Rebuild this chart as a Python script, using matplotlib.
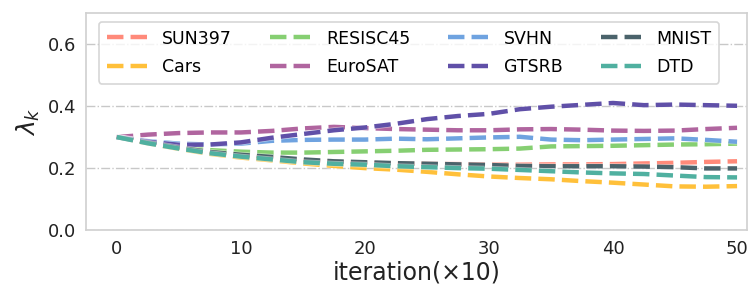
import numpy as np
from matplotlib import pyplot as plt
import matplotlib.patheffects as pe

# lambda_k per task, sampled every 2.5 (x10 iterations)
iters = [0, 2.5, 5, 7.5, 10, 12.5, 15, 17.5, 20, 22.5, 25,
         27.5, 30, 32.5, 35, 37.5, 40, 42.5, 45, 47.5, 50]

sun397 = [0.300, 0.281, 0.265, 0.250, 0.240, 0.232, 0.225, 0.220, 0.217, 0.215, 0.214,
          0.213, 0.212, 0.211, 0.212, 0.212, 0.213, 0.215, 0.217, 0.220, 0.222]
cars = [0.300, 0.280, 0.262, 0.246, 0.234, 0.225, 0.215, 0.207, 0.200, 0.195, 0.188,
        0.180, 0.173, 0.168, 0.164, 0.158, 0.153, 0.147, 0.141, 0.140, 0.142]
resisc45 = [0.300, 0.284, 0.268, 0.258, 0.253, 0.250, 0.250, 0.252, 0.254, 0.256, 0.259,
            0.260, 0.261, 0.263, 0.270, 0.271, 0.272, 0.274, 0.276, 0.277, 0.279]
eurosat = [0.300, 0.308, 0.313, 0.315, 0.315, 0.320, 0.328, 0.333, 0.329, 0.326, 0.324,
           0.322, 0.322, 0.325, 0.326, 0.324, 0.321, 0.320, 0.321, 0.326, 0.330]
svhn = [0.300, 0.287, 0.279, 0.276, 0.279, 0.288, 0.291, 0.292, 0.292, 0.295, 0.293,
        0.296, 0.299, 0.301, 0.292, 0.290, 0.292, 0.294, 0.296, 0.291, 0.285]
gtsrb = [0.300, 0.285, 0.275, 0.276, 0.283, 0.298, 0.310, 0.322, 0.331, 0.343, 0.358,
         0.368, 0.375, 0.390, 0.398, 0.404, 0.410, 0.403, 0.405, 0.403, 0.401]
mnist = [0.300, 0.282, 0.266, 0.252, 0.243, 0.236, 0.228, 0.222, 0.219, 0.216, 0.214,
         0.212, 0.210, 0.207, 0.206, 0.206, 0.206, 0.205, 0.203, 0.199, 0.199]
dtd = [0.300, 0.280, 0.263, 0.248, 0.237, 0.228, 0.219, 0.214, 0.211, 0.206, 0.203,
       0.200, 0.198, 0.194, 0.190, 0.186, 0.183, 0.181, 0.176, 0.171, 0.170]

names = ['SUN397', 'Cars', 'RESISC45', 'EuroSAT', 'SVHN', 'GTSRB', 'MNIST', 'DTD']
series = [sun397, cars, resisc45, eurosat, svhn, gtsrb, mnist, dtd]
colors = ['#ff8a7a', '#ffc03a', '#86cf72', '#b0659f', '#6fa3e0', '#6050a8', '#4b636b', '#50b0a0']

fig = plt.figure(figsize=(7.53, 3.04), dpi=100)
ax = fig.add_axes([0.114, 0.243, 0.878, 0.714])

for name, ys, c in zip(names, series, colors):
    ax.plot(iters, ys, '--', color=c, lw=3.2, label=name,
            path_effects=[pe.Stroke(linewidth=4.2, foreground='white', alpha=0.5), pe.Normal()])

ax.set_xlim(-2.5, 50.8)
ax.set_ylim(0, 0.7)
ax.set_xticks([0, 10, 20, 30, 40, 50])
ax.set_yticks([0.0, 0.2, 0.4, 0.6])
ax.yaxis.grid(True, linestyle='-.', color='#c8c8c8', lw=1)
ax.set_axisbelow(True)
for s in ax.spines.values():
    s.set_color('#d0d0d0')
    s.set_linewidth(1.2)
ax.tick_params(length=0, labelsize=13, colors='#222222', pad=7)
ax.set_xlabel('iteration(×10)', fontsize=17, color='#222222', labelpad=2)
ax.set_ylabel(r'$\lambda_k$', fontsize=18, color='#222222')

leg = ax.legend(ncol=4, loc='upper center', fontsize=12.5, frameon=True,
                bbox_to_anchor=(0.489, 1.0), columnspacing=2.2, handlelength=2.4,
                borderpad=0.45, labelspacing=0.6)
leg.get_frame().set_edgecolor('#cccccc')
leg.get_frame().set_linewidth(1.2)

fig.savefig('out.png', dpi=100)
